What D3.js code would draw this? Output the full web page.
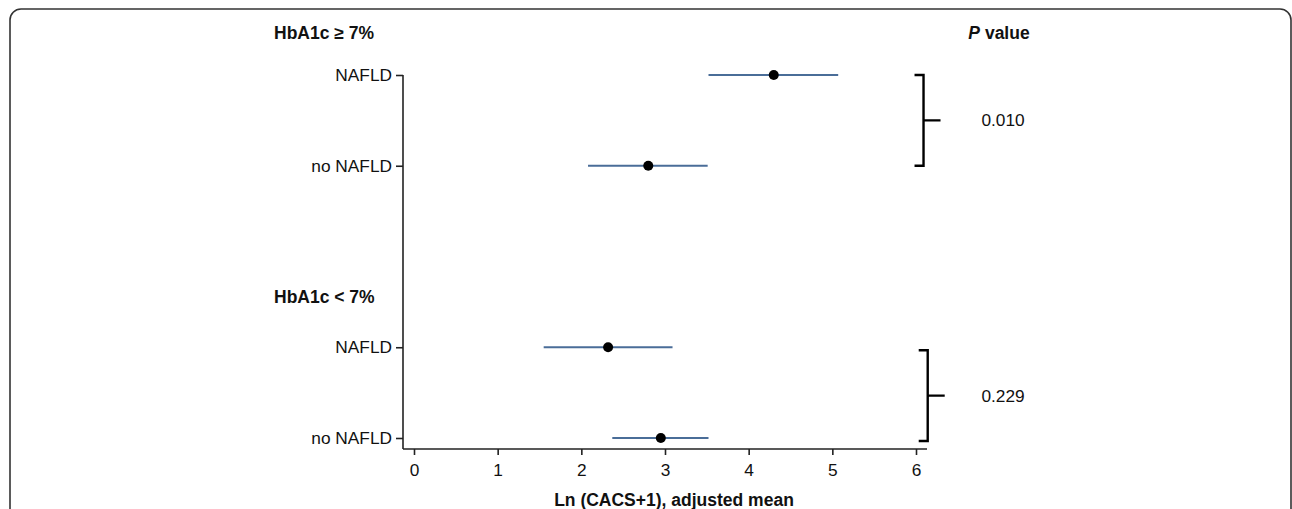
<!DOCTYPE html>
<html>
<head>
<meta charset="utf-8">
<script src="https://cdn.jsdelivr.net/npm/d3@7"></script>
<style>
  body { margin: 0; background: #fff; }
  text { font-family: "Liberation Sans", Arial, sans-serif; }
</style>
</head>
<body>
<div id="view"></div>
<script>
// data
var groups = ["HbA1c \u2265 7%", "HbA1c < 7%"];
var rowLabels = ["NAFLD", "no NAFLD", "NAFLD", "no NAFLD"];
var rowGroup = [0, 0, 1, 1];
var rowSlot = [0, 1, 3, 4];          // vertical slot of each row
var means = [4.30, 2.80, 2.32, 2.95];
var lower = [3.52, 2.08, 1.55, 2.37];
var upper = [5.07, 3.51, 3.09, 3.52];
var pValues = ["0.010", "0.229"];
var xTicks = [0, 1, 2, 3, 4, 5, 6];

var W = 1292, H = 509;
var svg = d3.select("#view").append("svg")
  .attr("width", W).attr("height", H);

// rounded frame, bottom runs off the picture
svg.append("rect")
  .attr("x", 10).attr("y", 9)
  .attr("width", 1281).attr("height", 560)
  .attr("rx", 11)
  .style("fill", "none").style("stroke", "#333").style("stroke-width", 1.6);

var x = d3.scaleLinear().domain([0, 6]).range([414, 916]);
var y = d3.scaleLinear().domain([0, 4]).range([75, 438]);

// axes
var xAxis = svg.append("g")
  .attr("transform", "translate(0,449)")
  .call(d3.axisBottom(x).tickValues(xTicks).tickFormat(d3.format("d"))
    .tickSize(6).tickPadding(9).tickSizeOuter(0));
xAxis.select(".domain").attr("d", "M403,0H927");

var yAxis = svg.append("g")
  .attr("transform", "translate(403,0)")
  .call(d3.axisLeft(y).tickValues(rowSlot).tickSize(7).tickPadding(4).tickSizeOuter(0)
    .tickFormat(function (d) { return rowLabels[rowSlot.indexOf(d)]; }));
yAxis.select(".domain").attr("d", "M0," + y(0) + "V449");

svg.selectAll(".tick text").style("font-size", "17.3px").style("fill", "#111")
  .style("font-family", "'Liberation Sans', Arial, sans-serif");
svg.selectAll(".domain, .tick line").style("stroke", "#222").style("stroke-width", 1.6);

// group headers
var headerY = [33, 297];
svg.selectAll(".hdr").data(groups).enter().append("text")
  .attr("class", "hdr")
  .attr("x", 274).attr("y", function (d, i) { return headerY[i]; })
  .attr("dy", "0.35em")
  .style("font-size", "17.5px").style("font-weight", "bold").style("fill", "#111")
  .text(function (d) { return d; });

// CI lines
svg.selectAll(".ci").data(means).enter().append("line")
  .attr("class", "ci")
  .attr("x1", function (d, i) { return x(lower[i]); })
  .attr("x2", function (d, i) { return x(upper[i]); })
  .attr("y1", function (d, i) { return y(rowSlot[i]); })
  .attr("y2", function (d, i) { return y(rowSlot[i]); })
  .style("stroke", "#4a6d98").style("stroke-width", 2.2);

// means
svg.selectAll(".pt").data(means).enter().append("circle")
  .attr("class", "pt")
  .attr("cx", function (d) { return x(d); })
  .attr("cy", function (d, i) { return y(rowSlot[i]); })
  .attr("r", 5)
  .style("fill", "#000");

// brackets and p values
var bx = [x(6.09), x(6.14)];
var shift = [0, 3];
pValues.forEach(function (p, g) {
  var rows = rowSlot.filter(function (s, i) { return rowGroup[i] === g; });
  var y1 = y(rows[0]) + shift[g], y2 = y(rows[1]) + shift[g], ym = (y1 + y2) / 2;
  svg.append("path")
    .attr("d", "M" + (bx[g] - 9) + "," + y1 + "H" + bx[g] + "V" + y2 + "H" + (bx[g] - 9) +
      "M" + bx[g] + "," + ym + "H" + (bx[g] + 17))
    .style("fill", "none").style("stroke", "#000").style("stroke-width", 2.4);
  svg.append("text")
    .attr("x", 1003).attr("y", ym).attr("dy", "0.35em")
    .attr("text-anchor", "middle")
    .style("font-size", "17.3px").style("fill", "#111")
    .text(p);
});

var ph = svg.append("text")
  .attr("x", 999).attr("y", 33).attr("dy", "0.35em")
  .attr("text-anchor", "middle")
  .style("font-size", "17.5px").style("font-weight", "bold").style("fill", "#111");
ph.append("tspan").style("font-style", "italic").text("P");
ph.append("tspan").text(" value");

// x axis title
svg.append("text")
  .attr("x", 674).attr("y", 500).attr("dy", "0.35em")
  .attr("text-anchor", "middle")
  .style("font-size", "17.5px").style("font-weight", "bold").style("fill", "#111")
  .text("Ln (CACS+1), adjusted mean");
</script>
</body>
</html>
